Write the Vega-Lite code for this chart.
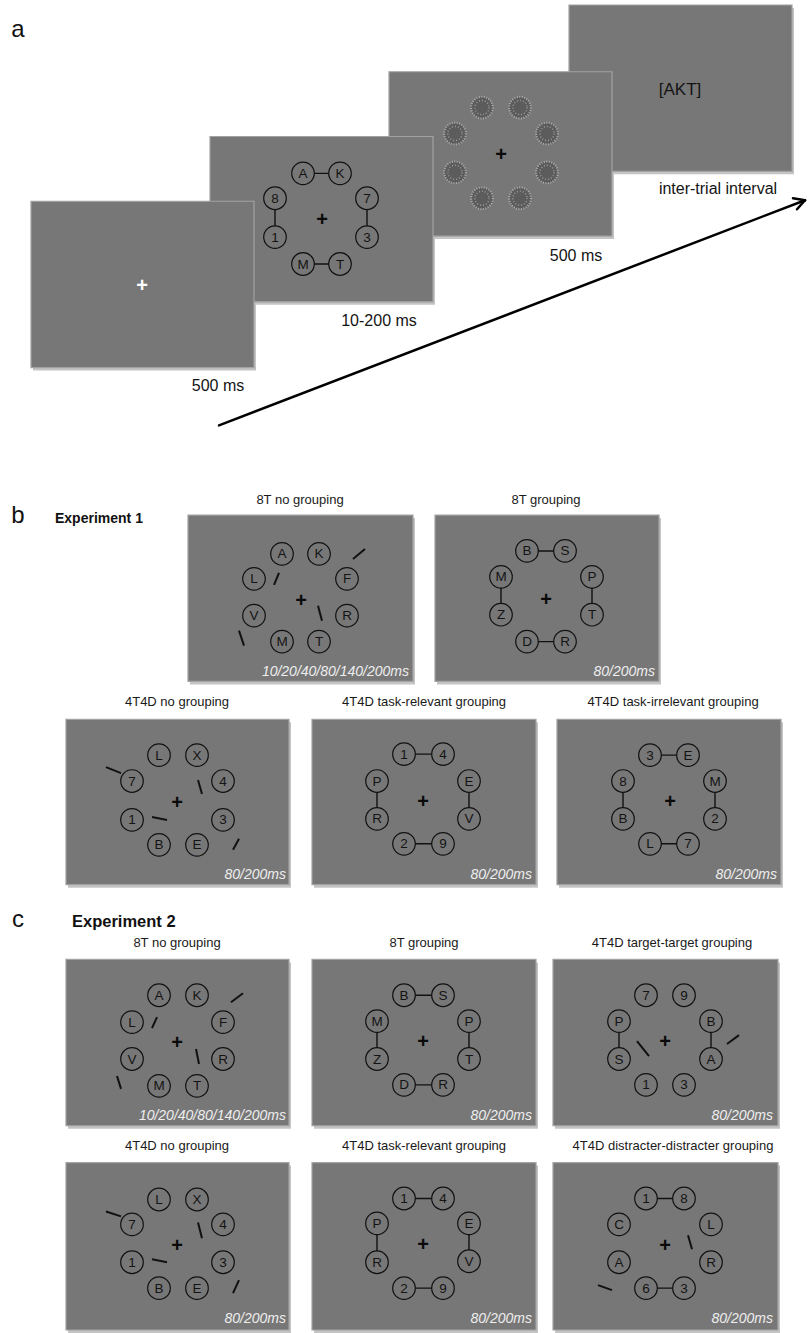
{
  "$schema": "https://vega.github.io/schema/vega-lite/v6.json",
  "width": 808,
  "height": 1333,
  "autosize": {"type": "fit", "contains": "padding"},
  "padding": 0,
  "background": "white",
  "config": {"view": {"stroke": null}, "text": {"font": "Liberation Sans"}},
  "datasets": {
    "screens": [
      {"id": "a4", "x": 569, "y": 5, "x2": 792, "y2": 172},
      {"id": "a3", "x": 389, "y": 72, "x2": 612, "y2": 237},
      {"id": "a2", "x": 210, "y": 137, "x2": 433, "y2": 303},
      {"id": "a1", "x": 31, "y": 202, "x2": 254, "y2": 369},
      {"id": "b1", "x": 188, "y": 517, "x2": 413, "y2": 684},
      {"id": "b2", "x": 435, "y": 517, "x2": 659, "y2": 684},
      {"id": "b3", "x": 66, "y": 722, "x2": 289, "y2": 888},
      {"id": "b4", "x": 312, "y": 722, "x2": 536, "y2": 888},
      {"id": "b5", "x": 557, "y": 722, "x2": 781, "y2": 888},
      {"id": "c1", "x": 66, "y": 963, "x2": 289, "y2": 1130},
      {"id": "c2", "x": 312, "y": 963, "x2": 536, "y2": 1130},
      {"id": "c3", "x": 553, "y": 963, "x2": 778, "y2": 1130},
      {"id": "c4", "x": 66, "y": 1167, "x2": 289, "y2": 1335},
      {"id": "c5", "x": 312, "y": 1167, "x2": 536, "y2": 1335},
      {"id": "c6", "x": 553, "y": 1167, "x2": 778, "y2": 1335}
    ],
    "noise": [
      {"x": 482, "y": 108}, {"x": 520, "y": 108}, {"x": 455, "y": 134}, {"x": 547, "y": 134},
      {"x": 455, "y": 173}, {"x": 547, "y": 173}, {"x": 482, "y": 199}, {"x": 520, "y": 199}
    ],
    "circles": [
      {"x": 303, "y": 174, "label": "A"}, {"x": 340, "y": 174, "label": "K"}, {"x": 275, "y": 199, "label": "8"}, {"x": 275, "y": 238, "label": "1"},
      {"x": 367, "y": 199, "label": "7"}, {"x": 367, "y": 238, "label": "3"}, {"x": 303, "y": 265, "label": "M"}, {"x": 340, "y": 265, "label": "T"},

      {"x": 282, "y": 556, "label": "A"}, {"x": 319, "y": 556, "label": "K"}, {"x": 254, "y": 581, "label": "L"}, {"x": 347, "y": 581, "label": "F"},
      {"x": 254, "y": 618, "label": "V"}, {"x": 347, "y": 618, "label": "R"}, {"x": 282, "y": 644, "label": "M"}, {"x": 319, "y": 644, "label": "T"},

      {"x": 527, "y": 553, "label": "B"}, {"x": 565, "y": 553, "label": "S"}, {"x": 501, "y": 579, "label": "M"}, {"x": 501, "y": 617, "label": "Z"},
      {"x": 592, "y": 579, "label": "P"}, {"x": 592, "y": 617, "label": "T"}, {"x": 527, "y": 644, "label": "D"}, {"x": 565, "y": 644, "label": "R"},

      {"x": 159, "y": 758, "label": "L"}, {"x": 197, "y": 758, "label": "X"}, {"x": 132, "y": 784, "label": "7"}, {"x": 223, "y": 784, "label": "4"},
      {"x": 132, "y": 823, "label": "1"}, {"x": 223, "y": 823, "label": "3"}, {"x": 159, "y": 848, "label": "B"}, {"x": 197, "y": 848, "label": "E"},

      {"x": 404, "y": 757, "label": "1"}, {"x": 443, "y": 757, "label": "4"}, {"x": 377, "y": 784, "label": "P"}, {"x": 377, "y": 822, "label": "R"},
      {"x": 469, "y": 784, "label": "E"}, {"x": 469, "y": 822, "label": "V"}, {"x": 404, "y": 847, "label": "2"}, {"x": 443, "y": 847, "label": "9"},

      {"x": 650, "y": 758, "label": "3"}, {"x": 688, "y": 758, "label": "E"}, {"x": 623, "y": 784, "label": "8"}, {"x": 623, "y": 822, "label": "B"},
      {"x": 715, "y": 784, "label": "M"}, {"x": 715, "y": 822, "label": "2"}, {"x": 650, "y": 847, "label": "L"}, {"x": 688, "y": 847, "label": "7"},

      {"x": 159, "y": 999, "label": "A"}, {"x": 197, "y": 999, "label": "K"}, {"x": 132, "y": 1026, "label": "L"}, {"x": 223, "y": 1026, "label": "F"},
      {"x": 132, "y": 1063, "label": "V"}, {"x": 223, "y": 1063, "label": "R"}, {"x": 159, "y": 1090, "label": "M"}, {"x": 197, "y": 1090, "label": "T"},

      {"x": 404, "y": 999, "label": "B"}, {"x": 443, "y": 999, "label": "S"}, {"x": 377, "y": 1025, "label": "M"}, {"x": 377, "y": 1063, "label": "Z"},
      {"x": 469, "y": 1025, "label": "P"}, {"x": 469, "y": 1063, "label": "T"}, {"x": 404, "y": 1089, "label": "D"}, {"x": 443, "y": 1089, "label": "R"},

      {"x": 646, "y": 999, "label": "7"}, {"x": 684, "y": 999, "label": "9"}, {"x": 619, "y": 1025, "label": "P"}, {"x": 619, "y": 1063, "label": "S"},
      {"x": 711, "y": 1025, "label": "B"}, {"x": 711, "y": 1063, "label": "A"}, {"x": 646, "y": 1089, "label": "1"}, {"x": 684, "y": 1089, "label": "3"},

      {"x": 159, "y": 1204, "label": "L"}, {"x": 197, "y": 1204, "label": "X"}, {"x": 132, "y": 1229, "label": "7"}, {"x": 223, "y": 1229, "label": "4"},
      {"x": 132, "y": 1267, "label": "1"}, {"x": 223, "y": 1267, "label": "3"}, {"x": 159, "y": 1293, "label": "B"}, {"x": 197, "y": 1293, "label": "E"},

      {"x": 404, "y": 1203, "label": "1"}, {"x": 443, "y": 1203, "label": "4"}, {"x": 377, "y": 1228, "label": "P"}, {"x": 377, "y": 1267, "label": "R"},
      {"x": 469, "y": 1228, "label": "E"}, {"x": 469, "y": 1266, "label": "V"}, {"x": 404, "y": 1293, "label": "2"}, {"x": 443, "y": 1293, "label": "9"},

      {"x": 646, "y": 1203, "label": "1"}, {"x": 684, "y": 1203, "label": "8"}, {"x": 619, "y": 1229, "label": "C"}, {"x": 619, "y": 1267, "label": "A"},
      {"x": 711, "y": 1229, "label": "L"}, {"x": 711, "y": 1267, "label": "R"}, {"x": 646, "y": 1293, "label": "6"}, {"x": 684, "y": 1293, "label": "3"}
    ],
    "lines": [
      {"x": 303, "y": 174, "x2": 340, "y2": 174, "kind": "connector"},
      {"x": 275, "y": 199, "x2": 275, "y2": 238, "kind": "connector"},
      {"x": 367, "y": 199, "x2": 367, "y2": 238, "kind": "connector"},
      {"x": 303, "y": 265, "x2": 340, "y2": 265, "kind": "connector"},

      {"x": 527, "y": 553, "x2": 565, "y2": 553, "kind": "connector"},
      {"x": 501, "y": 579, "x2": 501, "y2": 617, "kind": "connector"},
      {"x": 592, "y": 579, "x2": 592, "y2": 617, "kind": "connector"},
      {"x": 527, "y": 644, "x2": 565, "y2": 644, "kind": "connector"},

      {"x": 404, "y": 757, "x2": 443, "y2": 757, "kind": "connector"},
      {"x": 377, "y": 784, "x2": 377, "y2": 822, "kind": "connector"},
      {"x": 469, "y": 784, "x2": 469, "y2": 822, "kind": "connector"},
      {"x": 404, "y": 847, "x2": 443, "y2": 847, "kind": "connector"},

      {"x": 650, "y": 758, "x2": 688, "y2": 758, "kind": "connector"},
      {"x": 623, "y": 784, "x2": 623, "y2": 822, "kind": "connector"},
      {"x": 715, "y": 784, "x2": 715, "y2": 822, "kind": "connector"},
      {"x": 650, "y": 847, "x2": 688, "y2": 847, "kind": "connector"},

      {"x": 404, "y": 999, "x2": 443, "y2": 999, "kind": "connector"},
      {"x": 377, "y": 1025, "x2": 377, "y2": 1063, "kind": "connector"},
      {"x": 469, "y": 1025, "x2": 469, "y2": 1063, "kind": "connector"},
      {"x": 404, "y": 1089, "x2": 443, "y2": 1089, "kind": "connector"},

      {"x": 619, "y": 1025, "x2": 619, "y2": 1063, "kind": "connector"},
      {"x": 711, "y": 1025, "x2": 711, "y2": 1063, "kind": "connector"},

      {"x": 404, "y": 1203, "x2": 443, "y2": 1203, "kind": "connector"},
      {"x": 377, "y": 1228, "x2": 377, "y2": 1267, "kind": "connector"},
      {"x": 469, "y": 1228, "x2": 469, "y2": 1266, "kind": "connector"},
      {"x": 404, "y": 1293, "x2": 443, "y2": 1293, "kind": "connector"},

      {"x": 646, "y": 1203, "x2": 684, "y2": 1203, "kind": "connector"},
      {"x": 646, "y": 1293, "x2": 684, "y2": 1293, "kind": "connector"},

      {"x": 353, "y": 561, "x2": 365, "y2": 551, "kind": "distractor"},
      {"x": 274, "y": 587, "x2": 279, "y2": 575, "kind": "distractor"},
      {"x": 318, "y": 608, "x2": 322, "y2": 623, "kind": "distractor"},
      {"x": 239, "y": 633, "x2": 244, "y2": 648, "kind": "distractor"},

      {"x": 106, "y": 770, "x2": 121, "y2": 776, "kind": "distractor"},
      {"x": 198, "y": 783, "x2": 202, "y2": 797, "kind": "distractor"},
      {"x": 152, "y": 820, "x2": 167, "y2": 823, "kind": "distractor"},
      {"x": 233, "y": 853, "x2": 239, "y2": 842, "kind": "distractor"},

      {"x": 231, "y": 1006, "x2": 243, "y2": 997, "kind": "distractor"},
      {"x": 152, "y": 1032, "x2": 157, "y2": 1021, "kind": "distractor"},
      {"x": 196, "y": 1053, "x2": 199, "y2": 1068, "kind": "distractor"},
      {"x": 117, "y": 1080, "x2": 121, "y2": 1093, "kind": "distractor"},

      {"x": 637, "y": 1045, "x2": 649, "y2": 1060, "kind": "distractor"},
      {"x": 727, "y": 1048, "x2": 739, "y2": 1039, "kind": "distractor"},

      {"x": 106, "y": 1216, "x2": 121, "y2": 1221, "kind": "distractor"},
      {"x": 198, "y": 1227, "x2": 202, "y2": 1243, "kind": "distractor"},
      {"x": 152, "y": 1264, "x2": 167, "y2": 1267, "kind": "distractor"},
      {"x": 233, "y": 1298, "x2": 239, "y2": 1285, "kind": "distractor"},

      {"x": 688, "y": 1240, "x2": 692, "y2": 1254, "kind": "distractor"},
      {"x": 598, "y": 1290, "x2": 612, "y2": 1295, "kind": "distractor"},

      {"x": 219, "y": 427, "x2": 805, "y2": 201, "kind": "arrow"},
      {"x": 805, "y": 201, "x2": 793, "y2": 199, "kind": "arrow"},
      {"x": 805, "y": 201, "x2": 797, "y2": 210, "kind": "arrow"}
    ],
    "texts": [
      {"x": 18, "y": 30, "text": "a", "kind": "panel"},
      {"x": 18, "y": 518, "text": "b", "kind": "panel"},
      {"x": 18, "y": 923, "text": "c", "kind": "panel"},
      {"x": 55, "y": 521, "text": "Experiment 1", "kind": "heading1"},
      {"x": 72, "y": 925, "text": "Experiment 2", "kind": "heading2"},

      {"x": 218, "y": 387, "text": "500 ms", "kind": "timing"},
      {"x": 379, "y": 322, "text": "10-200 ms", "kind": "timing"},
      {"x": 576, "y": 257, "text": "500 ms", "kind": "timing"},
      {"x": 718, "y": 190, "text": "inter-trial interval", "kind": "timing"},
      {"x": 680, "y": 90, "text": "[AKT]", "kind": "akt"},

      {"x": 142, "y": 286, "text": "+", "kind": "plusw"},
      {"x": 322, "y": 220, "text": "+", "kind": "plus"},
      {"x": 501, "y": 155, "text": "+", "kind": "plus"},
      {"x": 301, "y": 602, "text": "+", "kind": "plus"},
      {"x": 546, "y": 601, "text": "+", "kind": "plus"},
      {"x": 177, "y": 805, "text": "+", "kind": "plus"},
      {"x": 423, "y": 804, "text": "+", "kind": "plus"},
      {"x": 670, "y": 804, "text": "+", "kind": "plus"},
      {"x": 177, "y": 1046, "text": "+", "kind": "plus"},
      {"x": 423, "y": 1045, "text": "+", "kind": "plus"},
      {"x": 665, "y": 1045, "text": "+", "kind": "plus"},
      {"x": 177, "y": 1250, "text": "+", "kind": "plus"},
      {"x": 423, "y": 1249, "text": "+", "kind": "plus"},
      {"x": 665, "y": 1250, "text": "+", "kind": "plus"},

      {"x": 300, "y": 502, "text": "8T no grouping", "kind": "title"},
      {"x": 546, "y": 502, "text": "8T grouping", "kind": "title"},
      {"x": 177, "y": 705, "text": "4T4D no grouping", "kind": "title"},
      {"x": 424, "y": 705, "text": "4T4D task-relevant grouping", "kind": "title"},
      {"x": 673, "y": 705, "text": "4T4D task-irrelevant grouping", "kind": "title"},
      {"x": 177, "y": 947, "text": "8T no grouping", "kind": "title"},
      {"x": 424, "y": 947, "text": "8T grouping", "kind": "title"},
      {"x": 672, "y": 947, "text": "4T4D target-target grouping", "kind": "title"},
      {"x": 177, "y": 1150, "text": "4T4D no grouping", "kind": "title"},
      {"x": 424, "y": 1150, "text": "4T4D task-relevant grouping", "kind": "title"},
      {"x": 673, "y": 1150, "text": "4T4D distracter-distracter grouping", "kind": "title"},

      {"x": 409, "y": 675, "text": "10/20/40/80/140/200ms", "kind": "caption"},
      {"x": 655, "y": 675, "text": "80/200ms", "kind": "caption"},
      {"x": 286, "y": 878, "text": "80/200ms", "kind": "caption"},
      {"x": 532, "y": 878, "text": "80/200ms", "kind": "caption"},
      {"x": 777, "y": 878, "text": "80/200ms", "kind": "caption"},
      {"x": 286, "y": 1120, "text": "10/20/40/80/140/200ms", "kind": "caption"},
      {"x": 532, "y": 1120, "text": "80/200ms", "kind": "caption"},
      {"x": 773, "y": 1120, "text": "80/200ms", "kind": "caption"},
      {"x": 286, "y": 1324, "text": "80/200ms", "kind": "caption"},
      {"x": 532, "y": 1324, "text": "80/200ms", "kind": "caption"},
      {"x": 773, "y": 1324, "text": "80/200ms", "kind": "caption"}
    ]
  },
  "encoding": {
    "x": {"field": "x", "type": "quantitative", "scale": {"domain": [0, 808], "nice": false, "zero": false}, "axis": null},
    "y": {"field": "y", "type": "quantitative", "scale": {"domain": [0, 1333], "nice": false, "zero": false, "reverse": true}, "axis": null}
  },
  "layer": [
    {
      "data": {"name": "screens"},
      "mark": {"type": "rect", "fill": "#c4c4c4", "xOffset": 2, "x2Offset": 2, "yOffset": 3, "y2Offset": 3},
      "encoding": {"x2": {"field": "x2"}, "y2": {"field": "y2"}}
    },
    {
      "data": {"name": "screens"},
      "mark": {"type": "rect", "fill": "#777777", "stroke": "#a2a2a2", "strokeWidth": 1.2},
      "encoding": {"x2": {"field": "x2"}, "y2": {"field": "y2"}}
    },
    {
      "data": {"name": "lines"},
      "transform": [{"filter": "datum.kind === 'connector'"}],
      "mark": {"type": "rule", "stroke": "#111111", "strokeWidth": 1.4},
      "encoding": {"x2": {"field": "x2"}, "y2": {"field": "y2"}}
    },
    {
      "data": {"name": "circles"},
      "mark": {"type": "point", "shape": "circle", "filled": true, "fill": "#777777", "stroke": "#111111", "strokeWidth": 1.2, "size": 510, "opacity": 1}
    },
    {
      "data": {"name": "noise"},
      "mark": {"type": "point", "shape": "circle", "filled": true, "fill": "#5c5c5c", "stroke": "#b0b0b0", "strokeWidth": 2, "strokeDash": [1, 1.5], "size": 470, "opacity": 1}
    },
    {
      "data": {"name": "noise"},
      "mark": {"type": "point", "shape": "circle", "filled": false, "stroke": "#9a9a9a", "strokeWidth": 1.5, "strokeDash": [1, 2], "size": 200, "opacity": 1}
    },
    {
      "data": {"name": "circles"},
      "mark": {"type": "text", "fontSize": 13.5, "fill": "#141414", "baseline": "middle", "align": "center", "dy": 0.5},
      "encoding": {"text": {"field": "label"}}
    },
    {
      "data": {"name": "lines"},
      "transform": [{"filter": "datum.kind === 'distractor'"}],
      "mark": {"type": "rule", "stroke": "#111111", "strokeWidth": 2},
      "encoding": {"x2": {"field": "x2"}, "y2": {"field": "y2"}}
    },
    {
      "data": {"name": "lines"},
      "transform": [{"filter": "datum.kind === 'arrow'"}],
      "mark": {"type": "rule", "stroke": "#000000", "strokeWidth": 2.5, "strokeCap": "round"},
      "encoding": {"x2": {"field": "x2"}, "y2": {"field": "y2"}}
    },
    {
      "data": {"name": "texts"},
      "transform": [{"filter": "datum.kind === 'panel'"}],
      "mark": {"type": "text", "fontSize": 24, "fill": "#111111", "baseline": "middle", "align": "center"},
      "encoding": {"text": {"field": "text"}}
    },
    {
      "data": {"name": "texts"},
      "transform": [{"filter": "datum.kind === 'heading1'"}],
      "mark": {"type": "text", "fontSize": 14, "fontWeight": "bold", "fill": "#111111", "baseline": "middle", "align": "left"},
      "encoding": {"text": {"field": "text"}}
    },
    {
      "data": {"name": "texts"},
      "transform": [{"filter": "datum.kind === 'heading2'"}],
      "mark": {"type": "text", "fontSize": 16.5, "fontWeight": "bold", "fill": "#111111", "baseline": "middle", "align": "left"},
      "encoding": {"text": {"field": "text"}}
    },
    {
      "data": {"name": "texts"},
      "transform": [{"filter": "datum.kind === 'timing'"}],
      "mark": {"type": "text", "fontSize": 16, "fill": "#141414", "baseline": "middle", "align": "center"},
      "encoding": {"text": {"field": "text"}}
    },
    {
      "data": {"name": "texts"},
      "transform": [{"filter": "datum.kind === 'akt'"}],
      "mark": {"type": "text", "fontSize": 17, "fill": "#141414", "baseline": "middle", "align": "center"},
      "encoding": {"text": {"field": "text"}}
    },
    {
      "data": {"name": "texts"},
      "transform": [{"filter": "datum.kind === 'plus'"}],
      "mark": {"type": "text", "fontSize": 20, "fontWeight": "bold", "fill": "#0a0a0a", "baseline": "middle", "align": "center", "dy": 1},
      "encoding": {"text": {"field": "text"}}
    },
    {
      "data": {"name": "texts"},
      "transform": [{"filter": "datum.kind === 'plusw'"}],
      "mark": {"type": "text", "fontSize": 20, "fontWeight": "bold", "fill": "#ffffff", "baseline": "middle", "align": "center", "dy": 1},
      "encoding": {"text": {"field": "text"}}
    },
    {
      "data": {"name": "texts"},
      "transform": [{"filter": "datum.kind === 'title'"}],
      "mark": {"type": "text", "fontSize": 13, "fill": "#1a1a1a", "baseline": "middle", "align": "center"},
      "encoding": {"text": {"field": "text"}}
    },
    {
      "data": {"name": "texts"},
      "transform": [{"filter": "datum.kind === 'caption'"}],
      "mark": {"type": "text", "fontSize": 14, "fontStyle": "italic", "fill": "#eeeeee", "baseline": "middle", "align": "right"},
      "encoding": {"text": {"field": "text"}}
    }
  ]
}
